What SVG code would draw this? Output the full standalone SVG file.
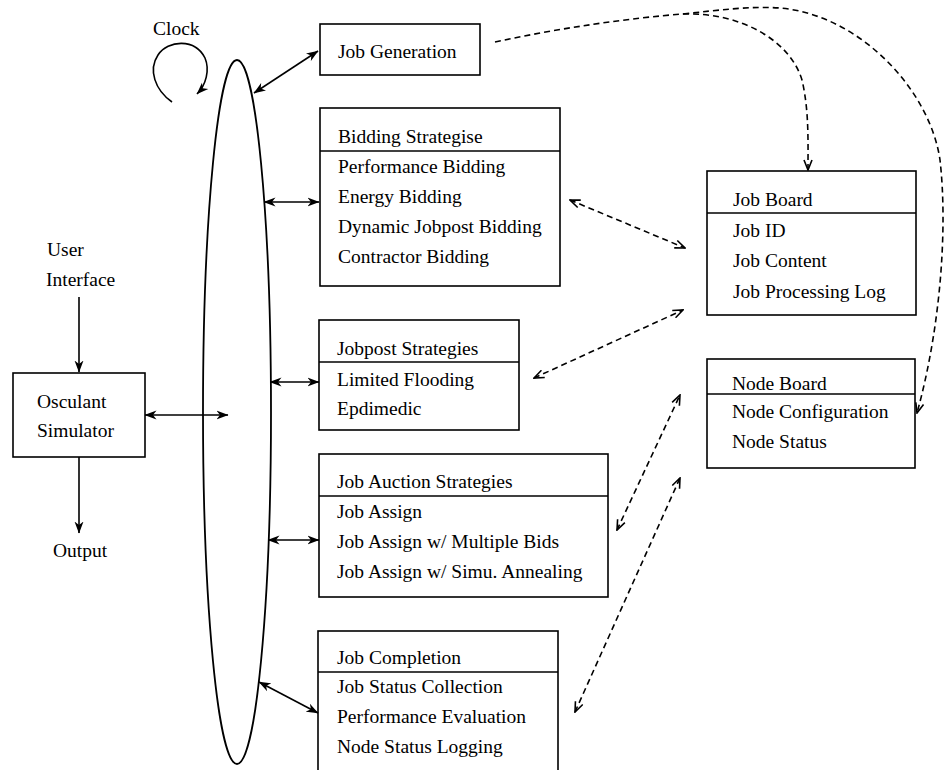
<svg xmlns="http://www.w3.org/2000/svg" width="945" height="770" viewBox="0 0 945 770">
<style>
text{font-family:"Liberation Serif","Times New Roman",serif;font-size:19.5px;fill:#000}
.box{fill:#fff;stroke:#000;stroke-width:1.6}
.div{stroke:#000;stroke-width:1.4}
.sol{fill:none;stroke:#000;stroke-width:1.6}
.dash{fill:none;stroke:#000;stroke-width:1.6;stroke-dasharray:6 4}
</style>
<defs>
<marker id="ah" viewBox="0 0 12 10" refX="11.5" refY="5" markerWidth="12" markerHeight="10" markerUnits="userSpaceOnUse" orient="auto-start-reverse">
<path d="M0,0.5 L12,5 L0,9.5 L3.5,5 Z" fill="#000"/>
</marker>
<marker id="dh" viewBox="0 0 12 10" refX="11" refY="5" markerWidth="12" markerHeight="10" markerUnits="userSpaceOnUse" orient="auto-start-reverse">
<path d="M1,1 L11,5 L1,9" fill="none" stroke="#000" stroke-width="1.6"/>
</marker>
</defs>
<rect width="945" height="770" fill="#fff"/>

<g id="clock">
<text x="153" y="35">Clock</text>
</g>
<g id="bus">
<ellipse cx="237" cy="412" rx="34" ry="352" fill="none" stroke="#000" stroke-width="1.8"/>
</g>
<g id="user-interface">
<text x="47" y="256">User</text>
<text x="46" y="286">Interface</text>
</g>
<g id="output">
<text x="53" y="557">Output</text>
</g>
<g id="osculant-simulator">
<rect class="box" x="13" y="373" width="132" height="84"/>
<text x="37" y="408">Osculant</text>
<text x="37" y="437">Simulator</text>
</g>
<g id="job-generation">
<rect class="box" x="320" y="24" width="160" height="51"/>
<text x="338" y="58">Job Generation</text>
</g>
<g id="bidding-strategise">
<rect class="box" x="320" y="108" width="240" height="178"/>
<line class="div" x1="320" y1="151" x2="560" y2="151"/>
<text x="338" y="143">Bidding Strategise</text>
<text x="338" y="173">Performance Bidding</text>
<text x="338" y="203">Energy Bidding</text>
<text x="338" y="233">Dynamic Jobpost Bidding</text>
<text x="338" y="263">Contractor Bidding</text>
</g>
<g id="jobpost-strategies">
<rect class="box" x="319" y="320" width="200" height="110"/>
<line class="div" x1="319" y1="362" x2="519" y2="362"/>
<text x="337" y="355">Jobpost Strategies</text>
<text x="337" y="386">Limited Flooding</text>
<text x="337" y="415">Epdimedic</text>
</g>
<g id="job-auction-strategies">
<rect class="box" x="319" y="454" width="289" height="143"/>
<line class="div" x1="319" y1="496" x2="608" y2="496"/>
<text x="337" y="488">Job Auction Strategies</text>
<text x="337" y="518">Job Assign</text>
<text x="337" y="548">Job Assign w/ Multiple Bids</text>
<text x="337" y="578">Job Assign w/ Simu. Annealing</text>
</g>
<g id="job-completion">
<rect class="box" x="318" y="631" width="240" height="150"/>
<line class="div" x1="318" y1="672" x2="558" y2="672"/>
<text x="337" y="664">Job Completion</text>
<text x="337" y="693">Job Status Collection</text>
<text x="337" y="723">Performance Evaluation</text>
<text x="337" y="753">Node Status Logging</text>
</g>
<g id="job-board">
<rect class="box" x="707" y="171" width="209" height="144"/>
<line class="div" x1="707" y1="213" x2="916" y2="213"/>
<text x="733" y="206">Job Board</text>
<text x="733" y="237">Job ID</text>
<text x="733" y="267">Job Content</text>
<text x="733" y="298">Job Processing Log</text>
</g>
<g id="node-board">
<rect class="box" x="707" y="359" width="208" height="109"/>
<line class="div" x1="707" y1="394" x2="915" y2="394"/>
<text x="732" y="390">Node Board</text>
<text x="732" y="418">Node Configuration</text>
<text x="732" y="448">Node Status</text>
</g>

<g id="connectors">
<path class="sol" d="M172,102 C155,90 148,70 158,55 C168,40 195,38 205,58 C210,70 206,85 197,94" marker-end="url(#ah)"/>
<path class="sol" d="M79,297 L79,372" marker-end="url(#ah)"/>
<path class="sol" d="M79,457 L79,533" marker-end="url(#ah)"/>
<path class="sol" d="M145,415 L228,415" marker-start="url(#ah)" marker-end="url(#ah)"/>
<path class="sol" d="M254,93 L318,51" marker-start="url(#ah)" marker-end="url(#ah)"/>
<path class="sol" d="M264,202 L319,202" marker-start="url(#ah)" marker-end="url(#ah)"/>
<path class="sol" d="M270,382 L319,382" marker-start="url(#ah)" marker-end="url(#ah)"/>
<path class="sol" d="M268,540 L319,540" marker-start="url(#ah)" marker-end="url(#ah)"/>
<path class="sol" d="M259,682 L318,713" marker-start="url(#ah)" marker-end="url(#ah)"/>

<path class="dash" d="M495,42 C560,28 630,18 683,14"/>
<path class="dash" d="M683,14 C740,12 790,40 802,80 C809,110 808,140 808,170" marker-end="url(#dh)"/>
<path class="dash" d="M683,14 C720,10 750,6 780,8 C860,15 930,90 940,160 C948,230 940,330 917,413" marker-end="url(#dh)"/>
<path class="dash" d="M570,200 L685,248" marker-start="url(#dh)" marker-end="url(#dh)"/>
<path class="dash" d="M534,378 L683,310" marker-start="url(#dh)" marker-end="url(#dh)"/>
<path class="dash" d="M617,530 L680,395" marker-start="url(#dh)" marker-end="url(#dh)"/>
<path class="dash" d="M575,712 L680,478" marker-start="url(#dh)" marker-end="url(#dh)"/>
</g>
</svg>
